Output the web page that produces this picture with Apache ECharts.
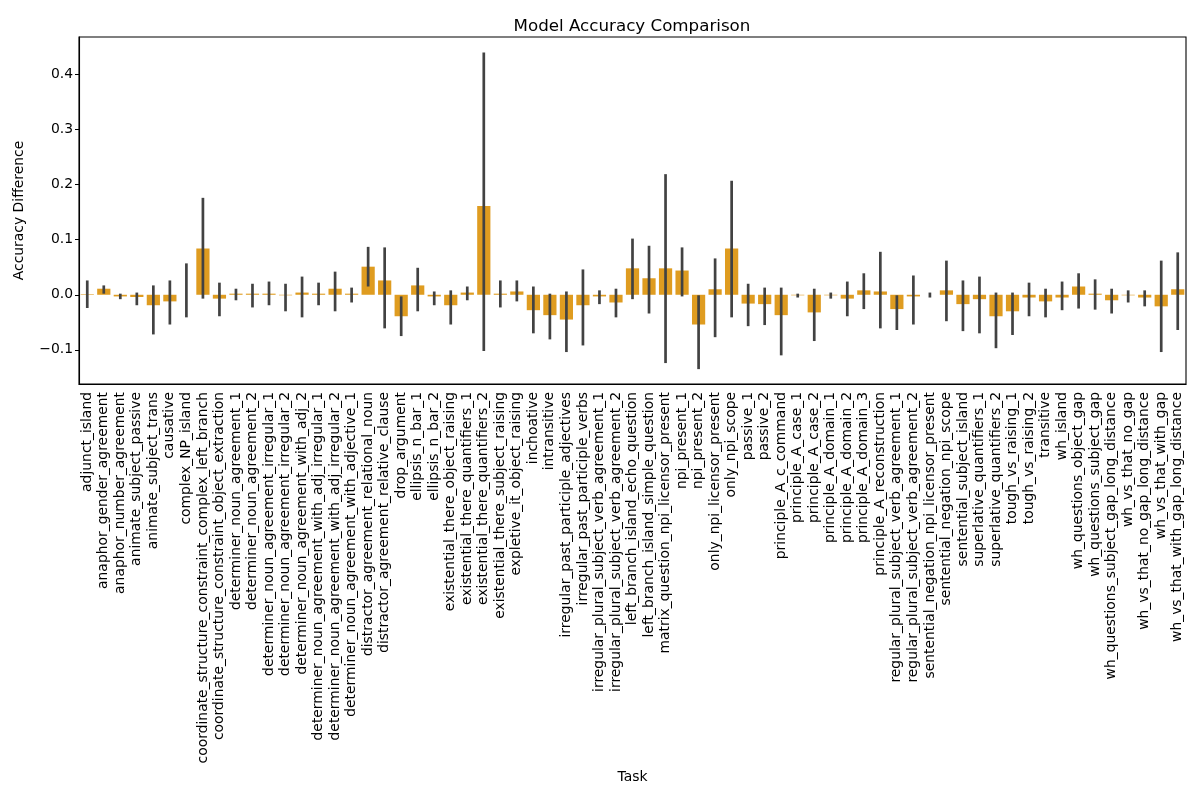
<!DOCTYPE html>
<html>
<head>
<meta charset="utf-8">
<title>Model Accuracy Comparison</title>
<script src="https://cdn.jsdelivr.net/npm/echarts@6/dist/echarts.min.js"></script>
<style>
  html, body { margin: 0; padding: 0; background: #fff; }
  #chart { width: 1200px; height: 800px; }
</style>
</head>
<body>
<div id="chart"></div>
<script>
// ---------------- data ----------------
var tasks = [
  'adjunct_island', 'anaphor_gender_agreement', 'anaphor_number_agreement',
  'animate_subject_passive', 'animate_subject_trans', 'causative', 'complex_NP_island',
  'coordinate_structure_constraint_complex_left_branch',
  'coordinate_structure_constraint_object_extraction',
  'determiner_noun_agreement_1', 'determiner_noun_agreement_2',
  'determiner_noun_agreement_irregular_1', 'determiner_noun_agreement_irregular_2',
  'determiner_noun_agreement_with_adj_2', 'determiner_noun_agreement_with_adj_irregular_1',
  'determiner_noun_agreement_with_adj_irregular_2', 'determiner_noun_agreement_with_adjective_1',
  'distractor_agreement_relational_noun', 'distractor_agreement_relative_clause',
  'drop_argument', 'ellipsis_n_bar_1', 'ellipsis_n_bar_2',
  'existential_there_object_raising', 'existential_there_quantifiers_1',
  'existential_there_quantifiers_2', 'existential_there_subject_raising',
  'expletive_it_object_raising', 'inchoative', 'intransitive',
  'irregular_past_participle_adjectives', 'irregular_past_participle_verbs',
  'irregular_plural_subject_verb_agreement_1', 'irregular_plural_subject_verb_agreement_2',
  'left_branch_island_echo_question', 'left_branch_island_simple_question',
  'matrix_question_npi_licensor_present', 'npi_present_1', 'npi_present_2',
  'only_npi_licensor_present', 'only_npi_scope', 'passive_1', 'passive_2',
  'principle_A_c_command', 'principle_A_case_1', 'principle_A_case_2',
  'principle_A_domain_1', 'principle_A_domain_2', 'principle_A_domain_3',
  'principle_A_reconstruction', 'regular_plural_subject_verb_agreement_1',
  'regular_plural_subject_verb_agreement_2', 'sentential_negation_npi_licensor_present',
  'sentential_negation_npi_scope', 'sentential_subject_island',
  'superlative_quantifiers_1', 'superlative_quantifiers_2',
  'tough_vs_raising_1', 'tough_vs_raising_2', 'transitive', 'wh_island',
  'wh_questions_object_gap', 'wh_questions_subject_gap',
  'wh_questions_subject_gap_long_distance', 'wh_vs_that_no_gap',
  'wh_vs_that_no_gap_long_distance', 'wh_vs_that_with_gap',
  'wh_vs_that_with_gap_long_distance'
];

// mean accuracy difference (bar height)
var meanDiff = [
  0.001, 0.011, -0.003, -0.004, -0.019, -0.012, 0.000, 0.084, -0.007, 0.002,
  0.002, 0.002, -0.001, 0.004, 0.002, 0.011, 0.002, 0.051, 0.026, -0.039,
  0.017, -0.003, -0.019, 0.004, 0.161, 0.002, 0.006, -0.028, -0.037, -0.045,
  -0.019, -0.003, -0.014, 0.048, 0.030, 0.048, 0.044, -0.054, 0.010, 0.084,
  -0.016, -0.017, -0.037, -0.001, -0.032, -0.001, -0.007, 0.008, 0.006, -0.026,
  -0.003, 0.000, 0.008, -0.017, -0.008, -0.039, -0.030, -0.005, -0.012, -0.005,
  0.015, 0.002, -0.010, -0.001, -0.005, -0.021, 0.010
];

// confidence interval, lower end
var ciLow = [
  -0.024, 0.002, -0.008, -0.019, -0.072, -0.054, -0.041, -0.007, -0.039, -0.010,
  -0.023, -0.019, -0.030, -0.041, -0.019, -0.030, -0.014, 0.015, -0.061, -0.075,
  -0.030, -0.019, -0.054, -0.010, -0.102, -0.023, -0.012, -0.070, -0.081, -0.104,
  -0.092, -0.017, -0.041, -0.008, -0.034, -0.124, -0.003, -0.135, -0.077, -0.041,
  -0.057, -0.055, -0.110, -0.005, -0.084, -0.007, -0.039, -0.026, -0.061, -0.064,
  -0.054, -0.005, -0.048, -0.066, -0.070, -0.097, -0.073, -0.039, -0.041, -0.028,
  -0.025, -0.027, -0.034, -0.014, -0.021, -0.104, -0.064
];

// confidence interval, upper end
var ciHigh = [
  0.026, 0.017, 0.002, 0.004, 0.017, 0.026, 0.057, 0.176, 0.022, 0.011,
  0.020, 0.024, 0.020, 0.033, 0.022, 0.042, 0.013, 0.087, 0.086, -0.003,
  0.049, 0.006, 0.008, 0.015, 0.440, 0.026, 0.026, 0.015, 0.002, 0.006,
  0.046, 0.008, 0.011, 0.102, 0.089, 0.219, 0.086, -0.001, 0.066, 0.207,
  0.020, 0.013, 0.013, 0.002, 0.011, 0.004, 0.024, 0.039, 0.078, -0.001,
  0.035, 0.004, 0.062, 0.026, 0.033, 0.004, 0.004, 0.022, 0.011, 0.024,
  0.039, 0.028, 0.011, 0.008, 0.008, 0.062, 0.077
];

// ---------------- chart ----------------
var FONT = 'DejaVu Sans';

function tickLabel(v) {
  var r = Math.round(v * 10);
  if (Math.abs(v * 10 - r) > 1e-6) return '';
  var s = (Math.abs(r) / 10).toFixed(1);
  return r < 0 ? '\u2212' + s : s;
}

var errData = tasks.map(function (t, i) {
  return [i, ciLow[i], ciHigh[i]];
});

var option = {
  animation: false,
  backgroundColor: '#fff',
  textStyle: { fontFamily: FONT },
  title: {
    text: 'Model Accuracy Comparison',
    left: 627,
    top: 13,
    textAlign: 'center',
    textStyle: { fontFamily: FONT, fontSize: 16.7, fontWeight: 'normal', color: '#000' }
  },
  grid: {
    left: 79, right: 14, top: 37, bottom: 416,
    show: true, borderColor: '#000', borderWidth: 1.1, backgroundColor: 'transparent'
  },
  xAxis: {
    type: 'category',
    data: tasks,
    name: 'Task',
    nameLocation: 'middle',
    nameGap: 386,
    nameTextStyle: { fontFamily: FONT, fontSize: 13.9, color: '#000' },
    axisLine: { onZero: false, lineStyle: { color: '#000', width: 1.1 } },
    axisTick: { alignWithLabel: true, length: 4, lineStyle: { color: '#000', width: 1 } },
    axisLabel: {
      interval: 0, rotate: 90, margin: 8,
      fontFamily: FONT, fontSize: 13.9, color: '#000'
    },
    splitLine: { show: false }
  },
  yAxis: {
    type: 'value',
    min: -0.162,
    max: 0.468,
    name: 'Accuracy Difference',
    nameLocation: 'middle',
    nameGap: 53,
    nameTextStyle: { fontFamily: FONT, fontSize: 13.9, color: '#000' },
    axisLine: { show: true, lineStyle: { color: '#000', width: 1.1 } },
    axisTick: { show: true, length: 4, lineStyle: { color: '#000', width: 1 } },
    axisLabel: {
      fontFamily: FONT, fontSize: 13.9, color: '#000', margin: 6,
      showMinLabel: false, showMaxLabel: false,
      formatter: tickLabel
    },
    splitLine: { show: false }
  },
  series: [
    {
      name: 'mean',
      type: 'bar',
      data: meanDiff,
      barWidth: '80%',
      itemStyle: { color: '#df9c20' }
    },
    {
      name: 'ci',
      type: 'custom',
      data: errData,
      encode: { x: 0, y: [1, 2] },
      z: 5,
      renderItem: function (params, api) {
        var p0 = api.coord([api.value(0), api.value(1)]);
        var p1 = api.coord([api.value(0), api.value(2)]);
        return {
          type: 'line',
          shape: { x1: p0[0], y1: p0[1], x2: p1[0], y2: p1[1] },
          style: { stroke: '#424242', lineWidth: 2.7 }
        };
      }
    }
  ]
};

var myChart = echarts.init(document.getElementById('chart'));
myChart.setOption(option);
</script>
</body>
</html>
